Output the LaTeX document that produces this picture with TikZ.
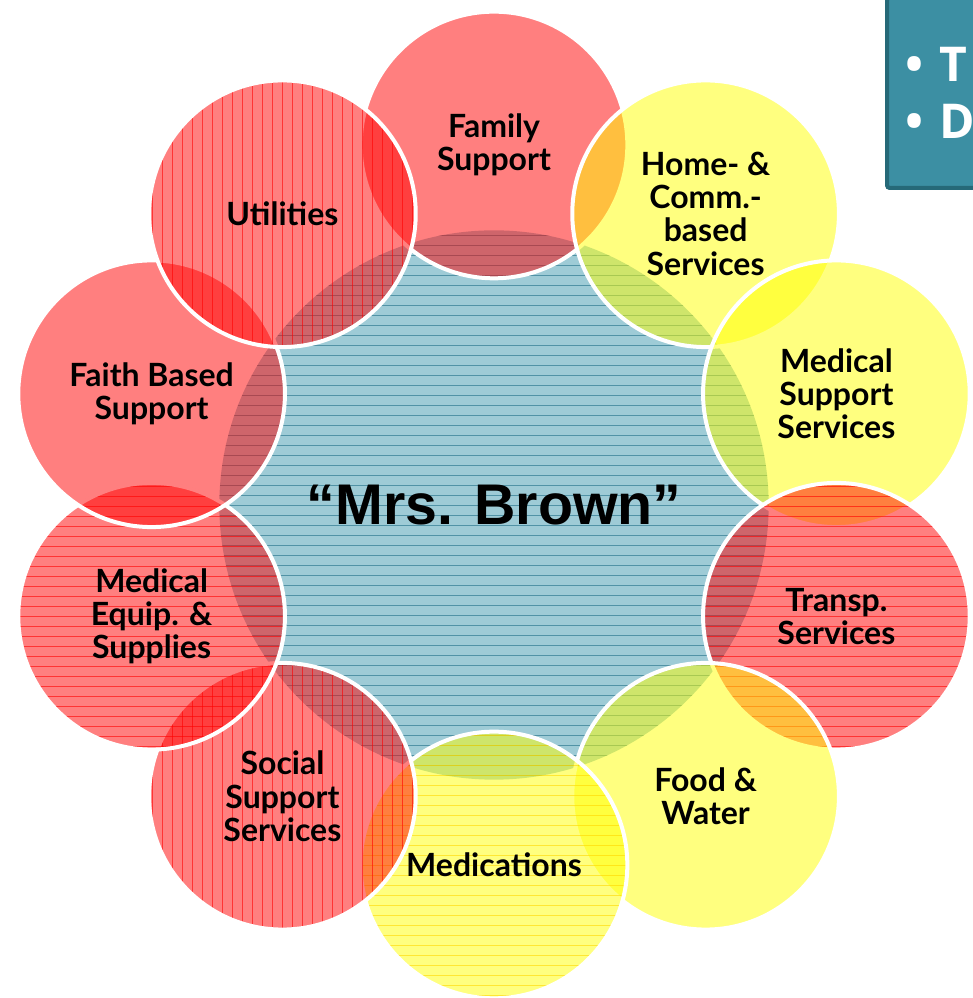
\documentclass[tikz,border=0pt]{standalone}
\usepackage{fontspec}
\usepackage{tikz}
\usepackage{xcolor}
\setmainfont{Lato}
\newfontfamily\brownfont{Liberation Sans}
\newfontfamily\notefont{Open Sans}
\definecolor{Ring-R}{RGB}{255, 0, 0}
\definecolor{Ring-Y}{RGB}{255, 255, 0}
\definecolor{Ring-T}{RGB}{62, 152, 174}
\definecolor{Line-R}{RGB}{255, 0, 0}
\definecolor{Line-Y}{RGB}{255, 215, 0}
\definecolor{Line-T}{RGB}{30, 110, 135}
\definecolor{Note-T}{RGB}{60, 143, 163}
\definecolor{Note-E}{RGB}{38, 105, 120}

\begin{document}
\begin{tikzpicture}[x=0.75pt, y=0.75pt, font=\bfseries\fontsize{24}{25}\selectfont,
  ring/.style={circle, minimum size=200pt, inner sep=0pt, draw=white, line width=3pt, fill opacity=0.5, text opacity=1, align=center},
  hlines/.style={path picture={\foreach \k in {-29,...,29} \draw[#1, draw opacity=0.6, line width=0.6pt] (path picture bounding box.center) ++(-300,\k*10) -- ++(600,0);}},
  vlines/.style={path picture={\foreach \k in {-15,...,15} \draw[#1, draw opacity=0.6, line width=0.6pt] (path picture bounding box.center) ++(\k*10,-150) -- ++(0,300);}}]

\useasboundingbox (0,0) rectangle (973,998);

% the person in the middle
\node [ring, draw=none, minimum size=412pt, fill=Ring-T, hlines=Line-T, font=\brownfont\bfseries\fontsize{43}{48}\selectfont] (mb) at (494,493) {“Mrs. Brown”};

% ring of supports, clockwise from the top
\node [ring, fill=Ring-R] (fs) at ([shift={(90:360)}]mb) {Family\\Support};
\node [ring, fill=Ring-Y] (hc) at ([shift={(54:360)}]mb) {Home- \&\\Comm.-\\based\\Services};
\node [ring, fill=Ring-Y] (ms) at ([shift={(18:360)}]mb) {Medical\\Support\\Services};
\node [ring, fill=Ring-R, hlines=Line-R] (ts) at ([shift={(-18:360)}]mb) {Transp.\\Services};
\node [ring, fill=Ring-Y] (fw) at ([shift={(-54:360)}]mb) {Food \&\\Water};
\node [ring, fill=Ring-Y, hlines=Line-Y] (md) at ([shift={(-90:360)}]mb) {Medications};
\node [ring, fill=Ring-R, vlines=Line-R] (ss) at ([shift={(-126:360)}]mb) {Social\\Support\\Services};
\node [ring, fill=Ring-R, hlines=Line-R] (me) at ([shift={(-162:360)}]mb) {Medical\\Equip. \&\\Supplies};
\node [ring, fill=Ring-R] (fb) at ([shift={(162:360)}]mb) {Faith Based\\Support};
\node [ring, fill=Ring-R, vlines=Line-R] (ut) at ([shift={(126:360)}]mb) {Utilities};

% note box, cut by the page edge
\begin{scope}
\clip (0,0) rectangle (973,998);
\node [rectangle, rounded corners=2pt, fill=Note-T, draw=Note-E, line width=3pt, text=white, align=left, text width=150pt, inner xsep=14pt, inner ysep=37pt, anchor=south west, font=\notefont\bfseries\fontsize{36}{43}\selectfont] (nt) at (885,808) {• T\\• D};
\end{scope}

\end{tikzpicture}
\end{document}
